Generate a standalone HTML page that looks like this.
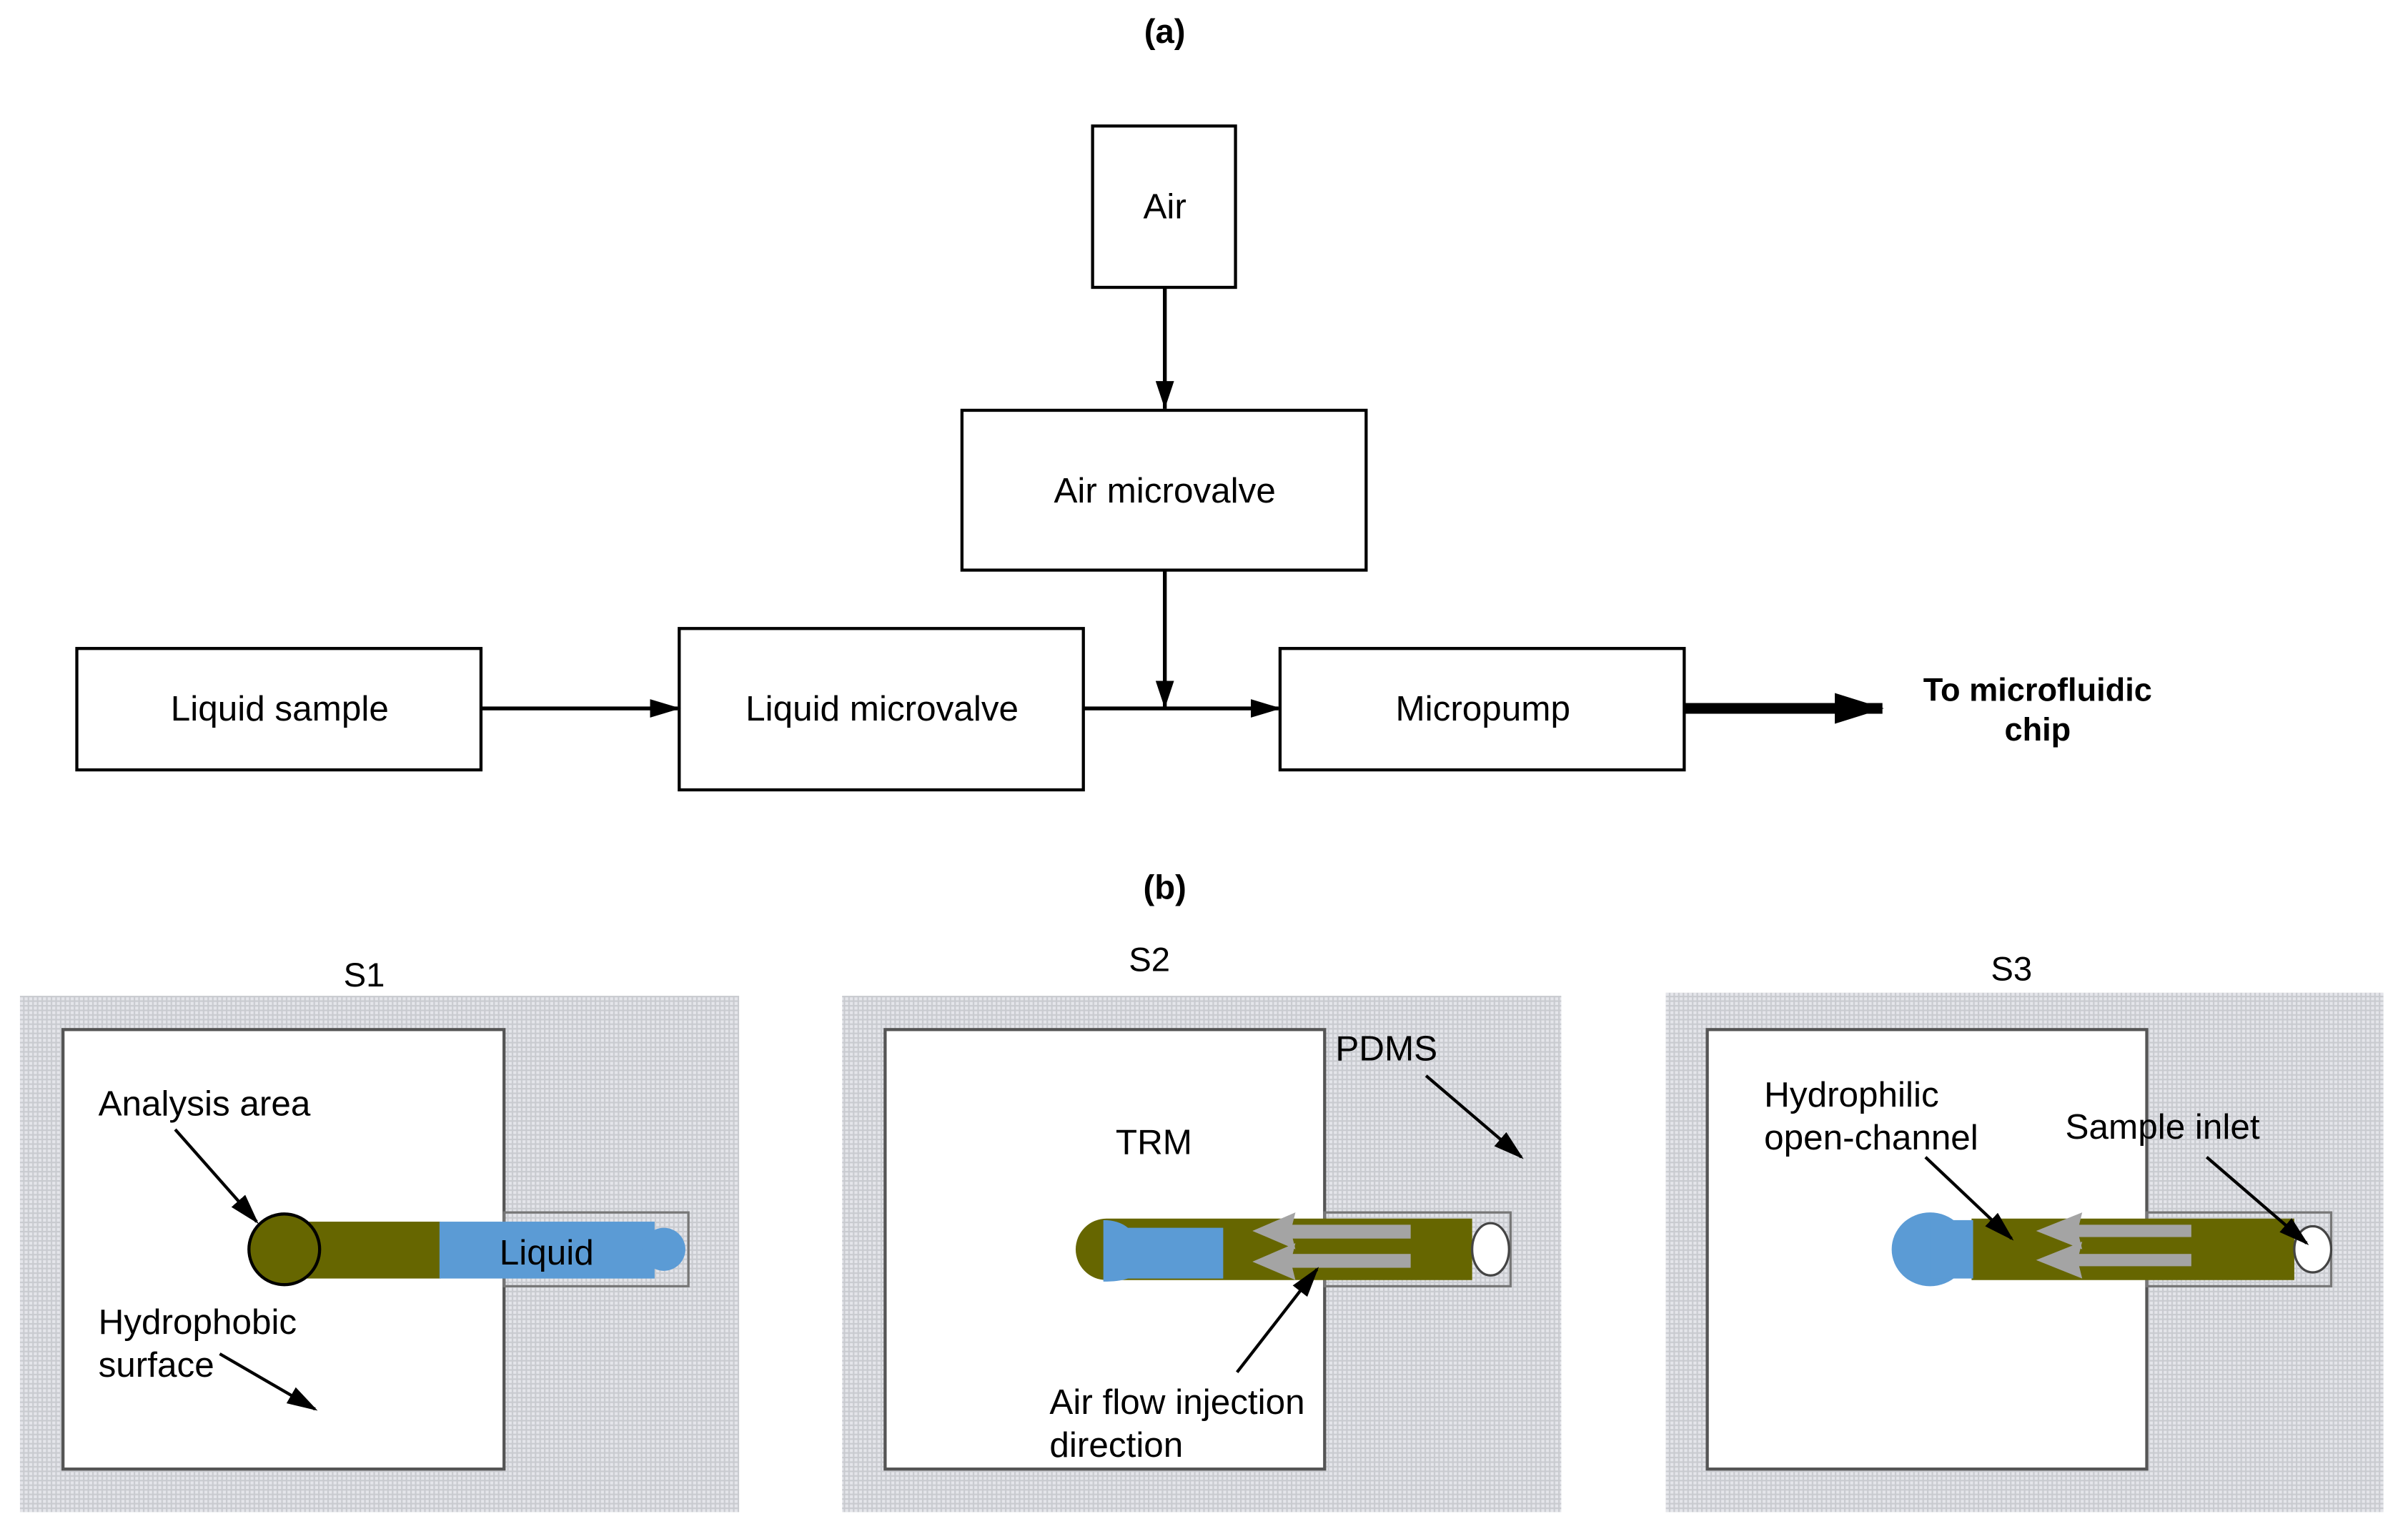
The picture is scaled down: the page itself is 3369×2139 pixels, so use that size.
<!DOCTYPE html>
<html><head><meta charset="utf-8"><style>
html,body{margin:0;padding:0;background:#fff;}
svg{display:block;}
text{font-family:"Liberation Sans",Arial,sans-serif;fill:#000;}
</style></head><body>
<svg width="3369" height="2139" viewBox="0 0 1567 995" preserveAspectRatio="none" xmlns="http://www.w3.org/2000/svg">
<defs>
<pattern id="g" width="3" height="3" patternUnits="userSpaceOnUse">
<rect width="3" height="3" fill="#e4e5ea"/>
<rect width="3" height="1" fill="#c9cbd0"/>
<rect width="1" height="3" fill="#c9cbd0"/>
</pattern>
<marker id="ah" markerWidth="18" markerHeight="12" refX="18" refY="6" orient="auto" markerUnits="userSpaceOnUse" viewBox="0 0 18 12"><path d="M0,0L18,6L0,12z" fill="#000"/></marker>
<marker id="ah2" markerWidth="20" markerHeight="12" refX="18" refY="6" orient="auto" markerUnits="userSpaceOnUse" viewBox="0 0 20 12"><path d="M0,0L20,6L0,12z" fill="#000"/></marker>
<marker id="big" markerWidth="32" markerHeight="20" refX="31" refY="10" orient="auto" markerUnits="userSpaceOnUse" viewBox="0 0 32 20"><path d="M0,0L32,10L0,20z" fill="#000"/></marker>
</defs>

<text x="758" y="28" font-size="22" font-weight="bold" text-anchor="middle">(a)</text>
<g fill="#fff" stroke="#000" stroke-width="2">
<rect x="711" y="82" width="93" height="105"/>
<rect x="626" y="267" width="263" height="104"/>
<rect x="50" y="422" width="263" height="79"/>
<rect x="442" y="409" width="263" height="105"/>
<rect x="833" y="422" width="263" height="79"/>
</g>
<g font-size="23" text-anchor="middle">
<text x="758" y="142">Air</text>
<text x="758" y="327">Air microvalve</text>
<text x="182" y="469">Liquid sample</text>
<text x="574" y="469">Liquid microvalve</text>
<text x="965" y="469">Micropump</text>
</g>
<g stroke="#000" stroke-width="2.5" fill="none">
<line x1="758" y1="187" x2="758" y2="266" marker-end="url(#ah)"/>
<line x1="758" y1="371" x2="758" y2="461" marker-end="url(#ah)"/>
<line x1="313" y1="461" x2="441" y2="461" marker-end="url(#ah2)"/>
<line x1="705" y1="461" x2="832" y2="461" marker-end="url(#ah2)"/>
<line x1="1096" y1="461" x2="1225" y2="461" stroke-width="7" marker-end="url(#big)"/>
</g>
<g font-size="21" font-weight="bold" text-anchor="middle">
<text x="1326" y="456">To microfluidic</text>
<text x="1326" y="482">chip</text>
</g>

<text x="758" y="585" font-size="22" font-weight="bold" text-anchor="middle">(b)</text>
<g font-size="22" text-anchor="middle">
<text x="237" y="642">S1</text>
<text x="748" y="632">S2</text>
<text x="1309" y="638">S3</text>
</g>

<rect x="13" y="648" width="468" height="336" fill="url(#g)"/>
<rect x="41" y="670" width="287" height="286" fill="#fff" stroke="#555" stroke-width="2"/>
<rect x="328" y="789" width="120" height="48" fill="none" stroke="#777" stroke-width="1.5"/>
<rect x="185" y="795" width="102" height="37" fill="#666600"/>
<rect x="286" y="795" width="140" height="37" fill="#5b9bd5"/>
<circle cx="432" cy="813" r="14" fill="#5b9bd5"/>
<ellipse cx="185" cy="813" rx="23" ry="23" fill="#666600" stroke="#000" stroke-width="2"/>
<g font-size="23">
<text x="64" y="726">Analysis area</text>
<text x="64" y="868">Hydrophobic</text>
<text x="64" y="896">surface</text>
<text x="325" y="823">Liquid</text>
</g>
<g stroke="#000" stroke-width="2" fill="none">
<line x1="114" y1="735" x2="167" y2="795" marker-end="url(#ah2)"/>
<line x1="143" y1="881" x2="205" y2="917" marker-end="url(#ah2)"/>
</g>

<rect x="548" y="648" width="468" height="336" fill="url(#g)"/>
<rect x="576" y="670" width="286" height="286" fill="#fff" stroke="#555" stroke-width="2"/>
<rect x="862" y="789" width="121" height="48" fill="none" stroke="#777" stroke-width="1.5"/>
<path d="M720,793 L958,793 L958,833 L720,833 A20,20 0 0 1 720,793z" fill="#666600"/>
<path d="M718,794 Q728,794 734,799 L796,799 L796,832 L734,832 Q728,834 718,834 z" fill="#5b9bd5"/>
<ellipse cx="970" cy="813" rx="12" ry="17" fill="#fff" stroke="#444" stroke-width="1.5"/>
<g fill="#a4a4a4">
<rect x="838" y="797" width="80" height="9"/>
<rect x="838" y="816" width="80" height="9"/>
<path d="M815,801 L843,789 L840,801 L843,813z"/>
<path d="M815,821 L843,809 L840,821 L843,833z"/>
</g>
<g font-size="23">
<text x="726" y="751">TRM</text>
<text x="869" y="690">PDMS</text>
<text x="683" y="920">Air flow injection</text>
<text x="683" y="948">direction</text>
</g>
<g stroke="#000" stroke-width="2" fill="none">
<line x1="928" y1="700" x2="990" y2="753" marker-end="url(#ah2)"/>
<line x1="805" y1="893" x2="857" y2="826" marker-end="url(#ah2)"/>
</g>

<rect x="1084" y="646" width="467" height="338" fill="url(#g)"/>
<rect x="1111" y="670" width="286" height="286" fill="#fff" stroke="#555" stroke-width="2"/>
<rect x="1397" y="789" width="120" height="48" fill="none" stroke="#777" stroke-width="1.5"/>
<rect x="1283" y="793" width="210" height="40" fill="#666600"/>
<ellipse cx="1256" cy="813" rx="25" ry="24" fill="#5b9bd5"/>
<rect x="1256" y="794" width="28" height="38" fill="#5b9bd5"/>
<ellipse cx="1505" cy="813" rx="12" ry="15" fill="#fff" stroke="#444" stroke-width="1.5"/>
<g fill="#a4a4a4">
<rect x="1350" y="797" width="76" height="8"/>
<rect x="1350" y="816" width="76" height="8"/>
<path d="M1325,801 L1355,789 L1352,801 L1355,813z"/>
<path d="M1325,820 L1355,808 L1352,820 L1355,832z"/>
</g>
<g font-size="23">
<text x="1148" y="720">Hydrophilic</text>
<text x="1148" y="748">open-channel</text>
<text x="1344" y="741">Sample inlet</text>
</g>
<g stroke="#000" stroke-width="2" fill="none">
<line x1="1253" y1="753" x2="1309" y2="806" marker-end="url(#ah2)"/>
<line x1="1436" y1="753" x2="1501" y2="809" marker-end="url(#ah2)"/>
</g>
</svg>
</body></html>
